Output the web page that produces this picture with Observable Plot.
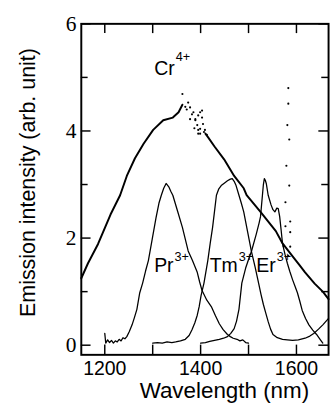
<!DOCTYPE html>
<html><head><meta charset="utf-8">
<script src="https://cdn.jsdelivr.net/npm/d3@7"></script>
<script src="https://cdn.jsdelivr.net/npm/@observablehq/plot@0.6"></script>
<style>html,body{margin:0;padding:0;background:#fff;overflow:hidden;width:331px;height:415px}</style>
</head><body><div id="chart"></div>
<script>
// ---- data (wavelength nm, intensity arb. unit) ----
const xDomain = [1151, 1667];
const yDomain = [-0.18, 6];
const xTicks = [1200, 1300, 1400, 1500, 1600];
const xLabels = [1200, 1400, 1600];
const yMajor = [0, 2, 4, 6];
const yMinor = [1, 3, 5];
const yLabels = [0, 2, 4, 6];
const xTitle = "Wavelength (nm)";
const yTitle = "Emission intensity (arb. unit)";

const crRise = [[1151,1.25],[1165,1.53],[1186,1.89],[1212,2.44],[1232,2.80],[1246,3.16],[1263,3.49],[1281,3.76],[1301,4.02],[1322,4.20],[1342,4.25],[1354,4.35],[1362,4.49]];
const crFall = [[1410,3.95],[1415,3.89],[1429,3.71],[1449,3.47],[1470,3.16],[1490,2.93],[1496,2.80],[1525,2.49],[1557,2.13],[1571,1.90],[1592,1.66],[1606,1.50],[1618,1.36],[1638,1.15],[1655,1.00],[1667,0.86]];
const crNoise = [[1362,4.69],[1368,4.45],[1371,4.40],[1374,4.53],[1378,4.44],[1382,4.31],[1378,4.22],[1389,4.20],[1395,4.29],[1403,4.38],[1393,4.11],[1399,4.04],[1395,3.95],[1405,4.13],[1399,4.35],[1403,4.25],[1389,4.22],[1395,4.02],[1409,4.02],[1399,3.95],[1413,3.93],[1385,4.35],[1387,4.05],[1407,3.98]];
const erDots = [[1583,4.80],[1583,4.51],[1581,4.11],[1585,3.84],[1579,3.35],[1585,2.98],[1577,2.67],[1587,2.31],[1577,2.22],[1587,2.11],[1573,1.85],[1587,1.84],[1583,1.67]];
const prData = [[1200,0.22],[1202,0.04],[1206,0.10],[1210,0.05],[1214,0.09],[1218,0.04],[1222,0.08],[1226,0.06],[1230,0.11],[1234,0.08],[1238,0.14],[1242,0.12],[1246,0.16],[1251,0.25],[1257,0.38],[1262,0.52],[1267,0.67],[1273,0.98],[1279,1.16],[1285,1.38],[1291,1.58],[1299,1.98],[1307,2.38],[1313,2.65],[1318,2.80],[1323,2.93],[1328,3.02],[1334,2.95],[1338,2.87],[1342,2.80],[1352,2.50],[1362,2.20],[1368,1.98],[1374,1.76],[1383,1.58],[1393,1.36],[1398,1.18],[1403,1.02],[1413,0.84],[1423,0.71],[1431,0.55],[1439,0.40],[1447,0.29],[1456,0.20],[1462,0.16],[1468,0.13],[1476,0.11],[1482,0.08],[1488,0.10],[1494,0.05],[1500,0.04]];
const tmData = [[1300,0.04],[1310,0.05],[1320,0.04],[1330,0.06],[1340,0.05],[1348,0.06],[1358,0.08],[1368,0.11],[1376,0.18],[1382,0.29],[1388,0.42],[1393,0.56],[1397,0.72],[1401,0.93],[1407,1.16],[1415,1.58],[1420,1.90],[1425,2.20],[1429,2.50],[1433,2.80],[1438,2.92],[1443,2.98],[1450,3.03],[1456,3.07],[1462,3.10],[1466,3.11],[1470,3.06],[1474,2.98],[1480,2.80],[1485,2.65],[1490,2.49],[1498,2.12],[1506,1.75],[1514,1.45],[1521,1.16],[1526,0.95],[1531,0.76],[1536,0.60],[1541,0.44],[1546,0.30],[1551,0.20],[1560,0.14],[1571,0.11],[1581,0.10],[1592,0.09],[1604,0.10],[1618,0.13],[1628,0.17],[1636,0.22],[1646,0.30],[1655,0.38],[1667,0.50]];
const erData = [[1400,0.04],[1410,0.05],[1419,0.07],[1429,0.09],[1439,0.11],[1448,0.13],[1456,0.16],[1463,0.22],[1470,0.31],[1475,0.45],[1480,0.67],[1486,1.16],[1494,1.44],[1500,1.60],[1506,1.75],[1516,2.07],[1522,2.28],[1525,2.40],[1529,2.80],[1531,3.00],[1533,3.11],[1535,3.08],[1537,3.02],[1541,2.80],[1547,2.62],[1551,2.53],[1555,2.49],[1559,2.56],[1562,2.55],[1565,2.40],[1568,2.15],[1571,1.89],[1576,1.70],[1581,1.53],[1586,1.38],[1592,1.22],[1597,1.10],[1602,0.98],[1607,0.82],[1612,0.65],[1619,0.50],[1626,0.38],[1634,0.28],[1642,0.20],[1650,0.10],[1655,0.04]];
const ionNames = ["Cr", "Pr", "Tm", "Er"];
const ionCharges = ["4+", "3+", "3+", "3+"];
const labelNm = [1303, 1303, 1419, 1516];
const labelV = [5.16, 1.48, 1.48, 1.48];

// ---- layout ----
const W = 340, H = 415, mL = 83, mR = 3, mT = 24, mB = 51;
const pw = W - mL - mR, ph = H - mT - mB;
const sans = "'Liberation Sans', Arial, Helvetica, sans-serif";
const serif = "'Liberation Serif', 'Times New Roman', serif";
const toObj = arr => arr.map(([nm, v]) => ({nm, v}));

const ctx = document.createElement("canvas").getContext("2d");
ctx.font = "20px 'Liberation Sans'";
const labels = ionNames.map((b, i) => ({
  base: b, sup: ionCharges[i], nm: labelNm[i], v: labelV[i],
  w: ctx.measureText(b).width, supDy: i === 0 ? -12 : -9
}));

const lineOpt = {x: "nm", y: "v", stroke: "#000", strokeWidth: 1.3, curve: "linear"};

const chart = Plot.plot({
  width: W, height: H,
  marginLeft: mL, marginRight: mR, marginTop: mT, marginBottom: mB,
  x: {domain: xDomain, axis: null},
  y: {domain: yDomain, axis: null},
  style: {background: "#fff", color: "#000", overflow: "visible"},
  marks: [
    Plot.line(toObj(prData), lineOpt),
    Plot.line(toObj(tmData), lineOpt),
    Plot.line(toObj(erData), lineOpt),
    Plot.line(toObj(crRise), {...lineOpt, strokeWidth: 2}),
    Plot.line(toObj(crFall), {...lineOpt, strokeWidth: 2}),
    Plot.dot(toObj(crNoise), {x: "nm", y: "v", r: 1.1, fill: "#000"}),
    Plot.dot(toObj(erDots), {x: "nm", y: "v", r: 1.1, fill: "#000"}),
    Plot.tickX(xTicks, {x: d => d, insetTop: ph - 10, stroke: "#000", strokeWidth: 1.5}),
    Plot.tickX(xTicks, {x: d => d, insetBottom: ph - 10, stroke: "#000", strokeWidth: 1.5}),
    Plot.tickY(yMajor, {y: d => d, insetRight: pw - 10, stroke: "#000", strokeWidth: 1.5}),
    Plot.tickY(yMinor, {y: d => d, insetRight: pw - 7, stroke: "#000", strokeWidth: 1.5}),
    Plot.tickY(yMajor, {y: d => d, insetLeft: pw - 10, stroke: "#000", strokeWidth: 1.5}),
    Plot.tickY(yMinor, {y: d => d, insetLeft: pw - 7, stroke: "#000", strokeWidth: 1.5}),
    Plot.frame({stroke: "#000", strokeWidth: 2}),
    Plot.text(xLabels, {x: d => d, text: d => String(d), frameAnchor: "bottom", lineAnchor: "top", dy: 6, fontSize: 20, fontFamily: sans, fill: "#000"}),
    Plot.text(yLabels, {y: d => d, text: d => String(d), frameAnchor: "left", textAnchor: "end", lineAnchor: "middle", dx: -5, fontSize: 22, fontFamily: serif, fill: "#000"}),
    Plot.text([xTitle], {text: d => d, frameAnchor: "bottom", textAnchor: "middle", dx: 20, dy: 37, lineAnchor: "middle", fontSize: 23, fontFamily: sans, fill: "#000"}),
    Plot.text([yTitle], {text: d => d, frameAnchor: "left", textAnchor: "middle", rotate: -90, dx: -55, dy: -7, lineAnchor: "middle", fontSize: 22, fontFamily: sans, fill: "#000"}),
    Plot.text(labels, {x: "nm", y: "v", text: "base", textAnchor: "start", lineAnchor: "middle", fontSize: 20, fontFamily: sans, fill: "#000"}),
    Plot.text(labels, {x: "nm", y: "v", text: "sup", textAnchor: "start", lineAnchor: "middle", fontSize: 13, fontFamily: sans, fill: "#000",
      render(index, scales, values, dims, context, next) {
        const g = next(index, scales, values, dims, context);
        g.querySelectorAll("text").forEach((t, j) => {
          const d = labels[index[j]];
          const x0 = +t.getAttribute("x") || 0;
          t.setAttribute("x", x0 + d.w + 1);
          t.setAttribute("transform", (t.getAttribute("transform") || "") + ` translate(0,${d.supDy})`);
        });
        return g;
      }})
  ]
});
document.getElementById("chart").appendChild(chart);
</script>
</body></html>
